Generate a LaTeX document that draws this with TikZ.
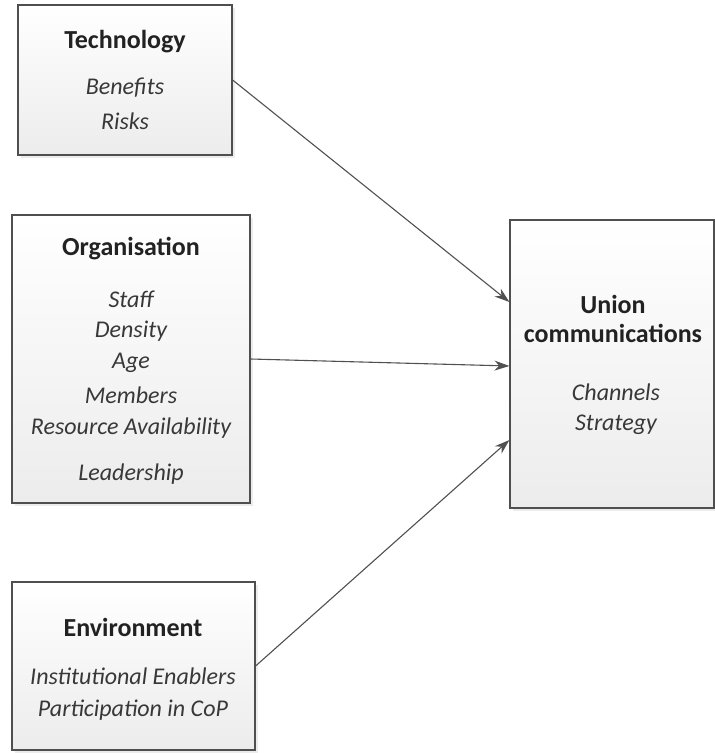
\documentclass[tikz,border=0pt]{standalone}
\usepackage{fontspec}
\setmainfont{Carlito}
\usetikzlibrary{arrows.meta,shadows,calc}
\definecolor{boxline}{HTML}{4F4F4F}
\definecolor{boxgray}{HTML}{ECECEC}
\definecolor{linecol}{HTML}{505050}
\definecolor{txt}{HTML}{222222}
\begin{document}
\begin{tikzpicture}[x=1pt,y=-1pt,
  box/.style={draw=boxline, line width=1.2pt, top color=white, bottom color=boxgray,
    drop shadow={shadow xshift=2.5pt, shadow yshift=-2.5pt, opacity=0.15, fill=gray},
    inner sep=0pt},
  title/.style={font=\fontsize{26}{30}\selectfont\bfseries, text=txt},
  item/.style={font=\fontsize{24}{28}\selectfont\itshape, text=txt!90},
  link/.style={draw=linecol, line width=1.1pt, -{Stealth[length=15pt,width=10pt]}}]
\useasboundingbox (0,0) rectangle (715,753);

% factor boxes
\node[box, minimum width=214pt, minimum height=150pt] (tech) at (125,80) {};
\node[box, minimum width=238pt, minimum height=288pt] (org) at (131,359) {};
\node[box, minimum width=243pt, minimum height=168pt] (env) at (133.5,666) {};
\node[box, minimum width=204pt, minimum height=288pt] (uc) at (612,364) {};

% Technology
\node[title] (techT) at (125,42) {Technology};
\node[item] (techA) at (125,88) {Benefits};
\node[item] (techB) at (125,121) {Risks};

% Organisation
\node[title] (orgT) at (131,249) {Organisation};
\node[item] (orgA) at (131,299) {Staff};
\node[item] (orgB) at (131,331) {Density};
\node[item] (orgC) at (131,363) {Age};
\node[item] (orgD) at (131,395) {Members};
\node[item] (orgE) at (131,428) {Resource Availability};
\node[item] (orgF) at (131,474) {Leadership};

% Environment
\node[title] (envT) at (133,627) {Environment};
\node[item] (envA) at (133,676) {Institutional Enablers};
\node[item] (envB) at (133,710) {Participation in CoP};

% Union communications
\node[title] (ucT1) at (613,304) {Union};
\node[title] (ucT2) at (613,333) {communications};
\node[item] (ucA) at (616,392) {Channels};
\node[item] (ucB) at (616,425) {Strategy};

% arrow targets on the left side of the outcome box
\coordinate (inT) at ($(uc.west)+(0,-62)$);
\coordinate (inO) at ($(uc.west)+(0,2)$);
\coordinate (inE) at ($(uc.west)+(0,76)$);

\draw[link] (tech.east) -- (inT);
\draw[link] (org.east) -- (inO);
\draw[link] (env.east) -- (inE);
\end{tikzpicture}
\end{document}
